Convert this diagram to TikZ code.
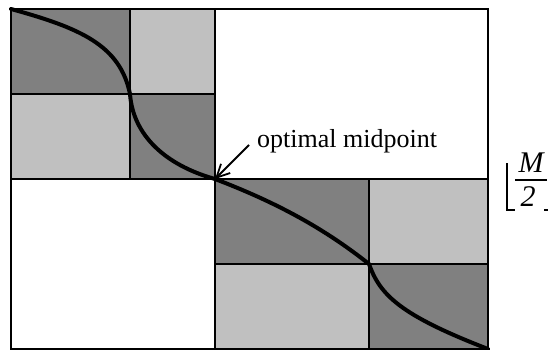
\documentclass[tikz,border=0pt]{standalone}
\usepackage{fontspec}
\setmainfont{Liberation Serif}
\usetikzlibrary{arrows.meta}
\definecolor{darkcell}{HTML}{808080}
\definecolor{lightcell}{HTML}{C0C0C0}
\begin{document}
\begin{tikzpicture}[x=1pt,y=-1pt,
  dcell/.style={fill=darkcell,draw=black,line width=2pt},
  lcell/.style={fill=lightcell,draw=black,line width=2pt},
  frame/.style={draw=black,line width=2pt},
  pathline/.style={line width=4pt,line cap=round,line join=round},
  lbl/.style={font=\fontsize{26}{29}\selectfont,inner sep=0pt},
  frac/.style={font=\fontsize{30}{33}\selectfont\itshape,inner sep=0pt},
  pointer/.style={line width=1.8pt,-{Straight Barb[length=13pt,width=13pt,line width=1.8pt]}}]
\useasboundingbox (0,0) rectangle (548,350);
% cells
\fill[fill=white] (11,9) rectangle (488,349);
\path[dcell] (11,9) rectangle (130,94);
\path[lcell] (130,9) rectangle (215,94);
\path[lcell] (11,94) rectangle (130,179);
\path[dcell] (130,94) rectangle (215,179);
\path[dcell] (215,179) rectangle (369,264);
\path[lcell] (369,179) rectangle (488,264);
\path[lcell] (215,264) rectangle (369,349);
\path[dcell] (369,264) rectangle (488,349);
\path[frame] (11,9) rectangle (488,349);
\draw[frame] (11,179) -- (488,179);
\draw[frame] (215,9) -- (215,349);
% named points
\coordinate (p0) at (11,9);
\coordinate (p1) at (130,94);
\coordinate (mid) at (215,179);
\coordinate (p3) at (369,264);
\coordinate (p4) at (488,349);
% optimal path
\draw[pathline] (p0) .. controls (80,28) and (120,45) .. (p1)
  .. controls (133,135) and (165,165) .. (mid)
  .. controls (270,200) and (320,225) .. (p3)
  .. controls (380,295) and (400,315) .. (p4);
% label and arrow
\node[lbl,anchor=base west] (lab) at (257,147) {optimal midpoint};
\coordinate (arrstart) at (249,145);
\draw[pointer] (arrstart) -- (mid);
% floor(M/2)
\node[frac,anchor=base] (num) at (531,172) {M};
\node[frac,anchor=base] (den) at (528,206) {2};
\draw[line width=1.6pt] (507,163) -- (507,210) -- (515,210);
\draw[line width=1.6pt] (515,180) -- (547,180);
\draw[line width=1.6pt] (544,210) -- (549,210);
\end{tikzpicture}
\end{document}
